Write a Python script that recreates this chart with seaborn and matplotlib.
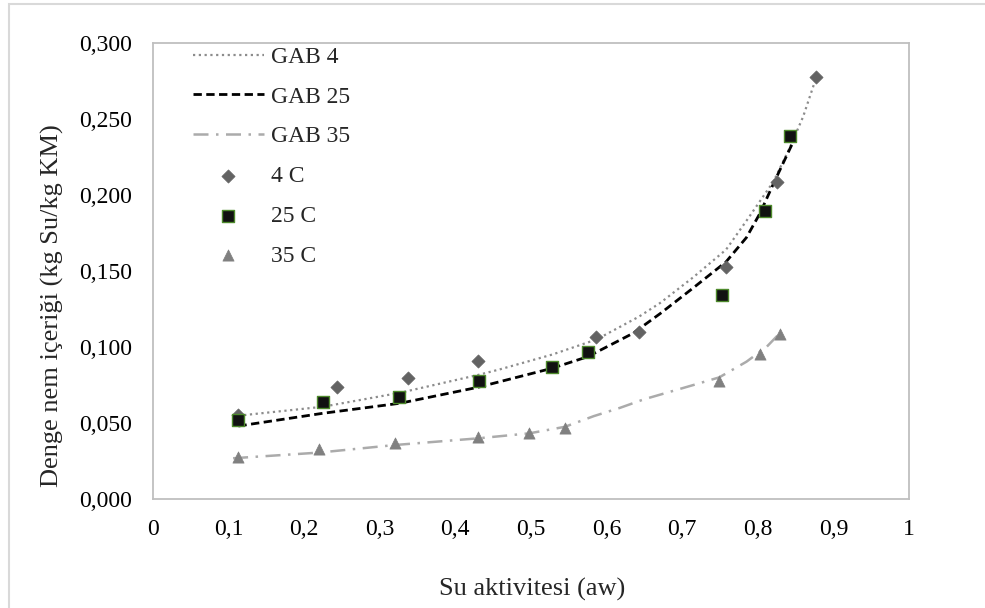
import matplotlib
matplotlib.use("Agg")
import matplotlib.pyplot as plt
import seaborn as sns
from matplotlib.patches import Rectangle

# measured points (aw, equilibrium moisture)
aw_4c = [0.113, 0.243, 0.338, 0.430, 0.586, 0.643, 0.758, 0.826, 0.877]
m_4c = [0.055, 0.0735, 0.0794, 0.0908, 0.1068, 0.1097, 0.1526, 0.2084, 0.2774]

aw_25c = [0.113, 0.225, 0.326, 0.431, 0.528, 0.576, 0.753, 0.810, 0.843]
m_25c = [0.052, 0.0636, 0.0669, 0.0778, 0.0866, 0.0969, 0.134, 0.1893, 0.2386]

aw_35c = [0.112, 0.219, 0.320, 0.430, 0.498, 0.545, 0.749, 0.803, 0.829]
m_35c = [0.0274, 0.0327, 0.0366, 0.0406, 0.0436, 0.0465, 0.0776, 0.0954, 0.1084]

# GAB fitted curves
gab4_aw = [0.113, 0.225, 0.327, 0.430, 0.459, 0.528, 0.587, 0.643, 0.671, 0.715,
           0.758, 0.785, 0.803, 0.821, 0.843, 0.860, 0.877]
gab4_m = [0.0548, 0.0607, 0.0699, 0.0816, 0.0853, 0.0950, 0.1050, 0.1200, 0.1290,
          0.1460, 0.1640, 0.1830, 0.1960, 0.2090, 0.2318, 0.2515, 0.2768]

gab25_aw = [0.113, 0.225, 0.327, 0.430, 0.459, 0.528, 0.575, 0.635, 0.671, 0.715,
            0.758, 0.785, 0.803, 0.821, 0.845]
gab25_m = [0.048, 0.0564, 0.063, 0.0735, 0.0772, 0.0860, 0.0936, 0.1090, 0.1220,
           0.1390, 0.1560, 0.1720, 0.1880, 0.2077, 0.2330]

gab35_aw = [0.106, 0.219, 0.320, 0.430, 0.498, 0.545, 0.583, 0.618, 0.649, 0.715,
            0.749, 0.785, 0.812, 0.829]
gab35_m = [0.0268, 0.0305, 0.0355, 0.0399, 0.0432, 0.0475, 0.0545, 0.0600, 0.0655,
           0.0750, 0.0800, 0.0903, 0.1002, 0.109]

xticks = [0, 0.1, 0.2, 0.3, 0.4, 0.5, 0.6, 0.7, 0.8, 0.9, 1]
xtick_labels = ["0", "0,1", "0,2", "0,3", "0,4", "0,5", "0,6", "0,7", "0,8", "0,9", "1"]
yticks = [0, 0.05, 0.1, 0.15, 0.2, 0.25, 0.3]
ytick_labels = ["0,000", "0,050", "0,100", "0,150", "0,200", "0,250", "0,300"]

sns.set_style("white")
plt.rcParams["font.family"] = ["Liberation Serif", "DejaVu Serif"]

fig = plt.figure(figsize=(9.85, 6.08), dpi=100)
ax = fig.add_axes([0.1553, 0.1793, 0.7675, 0.75])

# outer chart border (only left/top visible in the frame)
fig.patches.append(Rectangle((9 / 985, -0.1), 1.2, 1.1 - 4 / 608, transform=fig.transFigure,
                             fill=False, edgecolor="#d9d9d9", linewidth=1.5))

sns.lineplot(x=gab4_aw, y=gab4_m, ax=ax, sort=False, estimator=None, color="#8c8c8c",
             linewidth=1.6, linestyle=(0, (1, 1.6)), label="GAB 4")
sns.lineplot(x=gab25_aw, y=gab25_m, ax=ax, sort=False, estimator=None, color="black",
             linewidth=2.0, linestyle=(0, (3, 1.6)), label="GAB 25")
sns.lineplot(x=gab35_aw, y=gab35_m, ax=ax, sort=False, estimator=None, color="#ababab",
             linewidth=1.8, linestyle=(0, (6, 3, 1, 3)), label="GAB 35")

sns.scatterplot(x=aw_4c, y=m_4c, ax=ax, marker="D", s=45, color="#636363",
                edgecolor="#636363", linewidth=0.5, zorder=3, label="4 C")
sns.scatterplot(x=aw_25c, y=m_25c, ax=ax, marker="s", s=70, color="#111111",
                edgecolor="#4e8a2c", linewidth=1.0, zorder=3, label="25 C")
sns.scatterplot(x=aw_35c, y=m_35c, ax=ax, marker="^", s=65, color="#808080",
                edgecolor="#808080", linewidth=0.5, zorder=3, label="35 C")

ax.set_xlim(0, 1)
ax.set_ylim(0, 0.3)
ax.set_xticks(xticks)
ax.set_xticklabels(xtick_labels)
ax.set_yticks(yticks)
ax.set_yticklabels(ytick_labels)
ax.tick_params(axis="x", length=0, pad=14.5, labelsize=17, colors="black")
ax.tick_params(axis="y", length=0, pad=15, labelsize=17, colors="black")

for sp in ax.spines.values():
    sp.set_visible(True)
    sp.set_color("#bfbfbf")
    sp.set_linewidth(1.3)

ax.set_xlabel("Su aktivitesi (aw)", fontsize=19)
ax.set_ylabel("Denge nem içeriği (kg Su/kg KM)", fontsize=19)
ax.xaxis.set_label_coords(0.501, -0.172)
ax.yaxis.set_label_coords(-0.118, 0.423)

ax.legend(loc="upper left", bbox_to_anchor=(0.048, 1.0), frameon=False, fontsize=17,
          handlelength=3.0, handletextpad=0.3, labelspacing=0.77, borderpad=0.0,
          borderaxespad=0.15)

fig.savefig("out.png", dpi=100)
